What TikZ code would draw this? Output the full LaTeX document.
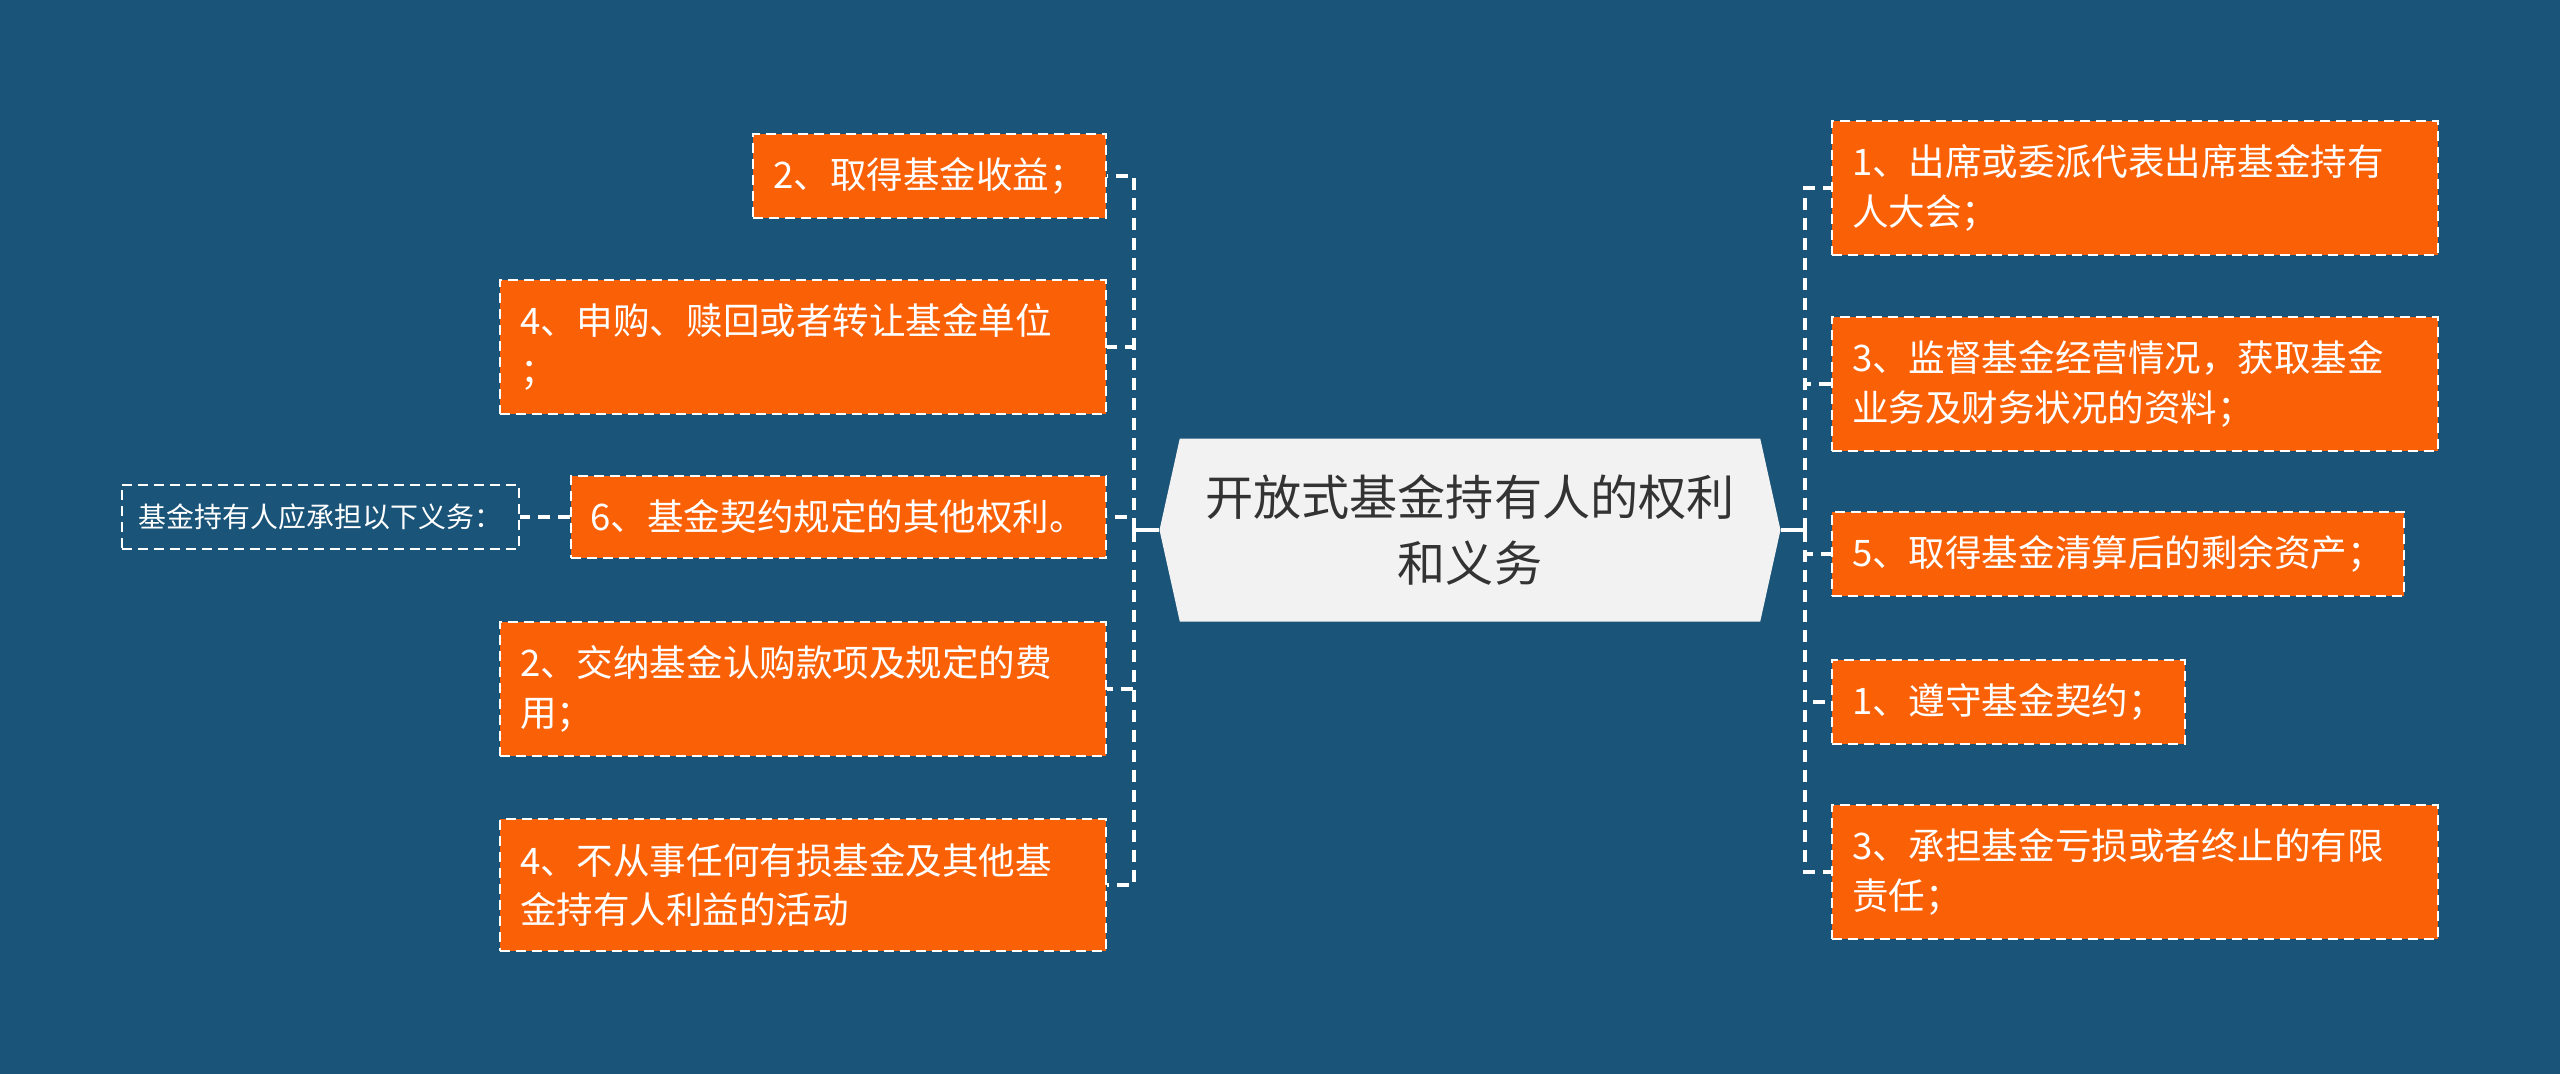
\documentclass[tikz,border=0pt]{standalone}
\usepackage{fontspec}
\setmainfont{Noto Sans CJK SC}
\usetikzlibrary{shapes.symbols}
\definecolor{bgblue}{RGB}{26,84,120}
\definecolor{boxorange}{RGB}{250,96,6}
\definecolor{rootgray}{RGB}{242,242,242}
\definecolor{rootink}{RGB}{51,51,51}
\tikzset{
  item/.style={fill=boxorange, draw=white, line width=0.02cm, dash pattern=on 0.1cm off 0.06cm,
    text=white, inner xsep=0.2cm, inner ysep=0.24cm, align=left,
    font=\fontsize{10.4pt}{14.1pt}\selectfont},
  wide/.style={item, text width=5.66cm},
  duty/.style={draw=white, line width=0.02cm, dash pattern=on 0.1cm off 0.06cm,
    text=white, inner xsep=0.17cm, inner ysep=0.19cm,
    font=\fontsize{7.95pt}{10pt}\selectfont},
  link/.style={white, line width=0.04cm, dash pattern=on 0.12cm off 0.08cm},
  stem/.style={white, line width=0.035cm}
}
\begin{document}
\begin{tikzpicture}
\fill[bgblue] (0,0) rectangle (25.6,-10.74);
\useasboundingbox (0,0) rectangle (25.6,-10.74);
\node[signal, signal to=west and east, signal pointer angle=155, fill=rootgray,
  minimum width=6.21cm, minimum height=1.83cm, align=center, text=rootink,
  font=\fontsize{13.7pt}{18.8pt}\selectfont] at (14.70,-5.30) (Root) {开放式基金持有人的权利\\和义务};
% left side
\node[item, anchor=east] at (11.07,-1.76) (Left1) {2、取得基金收益；};
\node[wide, anchor=east] at (11.07,-3.47) (Left2) {4、申购、赎回或者转让基金单位\\；};
\node[item, anchor=east] at (11.07,-5.17) (Left3) {6、基金契约规定的其他权利。};
\node[wide, anchor=east] at (11.07,-6.89) (Left4) {2、交纳基金认购款项及规定的费\\用；};
\node[wide, anchor=east] at (11.07,-8.85) (Left5) {4、不从事任何有损基金及其他基\\金持有人利益的活动};
\node[duty, anchor=east] at (5.20,-5.17) (Duty) {基金持有人应承担以下义务：};
% right side
\node[wide, anchor=west] at (18.31,-1.88) (Right1) {1、出席或委派代表出席基金持有\\人大会；};
\node[wide, anchor=west] at (18.31,-3.84) (Right2) {3、监督基金经营情况，获取基金\\业务及财务状况的资料；};
\node[item, anchor=west] at (18.31,-5.54) (Right3) {5、取得基金清算后的剩余资产；};
\node[item, anchor=west] at (18.31,-7.02) (Right4) {1、遵守基金契约；};
\node[wide, anchor=west] at (18.31,-8.72) (Right5) {3、承担基金亏损或者终止的有限\\责任；};
\coordinate (JoinL) at (11.34,-5.30);
\coordinate (JoinR) at (18.05,-5.30);
\draw[stem] (Root.west) -- (JoinL);
\draw[stem] (Root.east) -- (JoinR);
\draw[link] (JoinL) |- (Left1.east);
\draw[link] (JoinL) |- (Left2.east);
\draw[link] (JoinL) |- (Left3.east);
\draw[link] (JoinL) |- (Left4.east);
\draw[link] (JoinL) |- (Left5.east);
\draw[link] (Left3.west) -- (Duty.east);
\draw[link] (JoinR) |- (Right1.west);
\draw[link] (JoinR) |- (Right2.west);
\draw[link] (JoinR) |- (Right3.west);
\draw[link] (JoinR) |- (Right4.west);
\draw[link] (JoinR) |- (Right5.west);
\end{tikzpicture}
\end{document}
